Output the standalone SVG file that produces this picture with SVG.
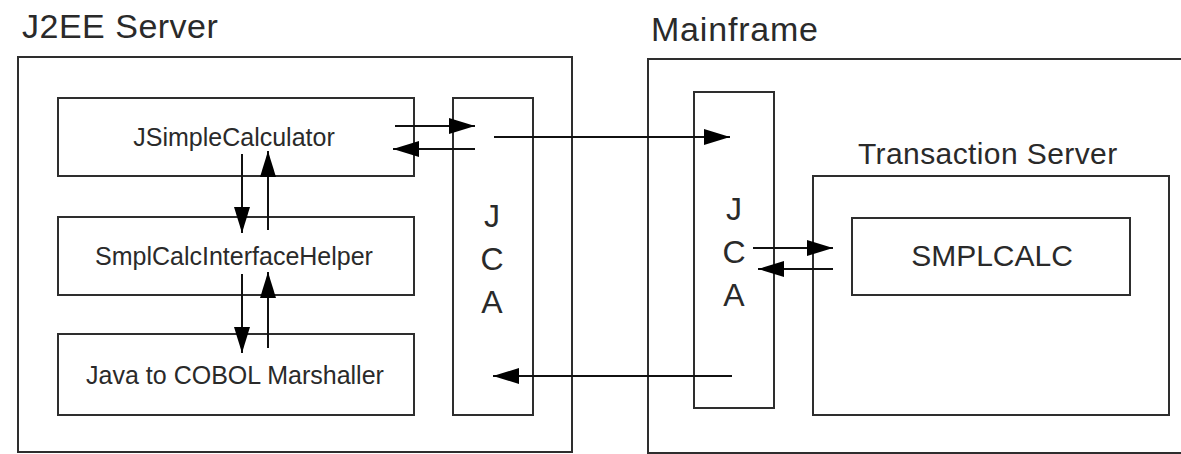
<svg xmlns="http://www.w3.org/2000/svg" width="1181" height="454" viewBox="0 0 1181 454">
<style>
.box{fill:none;stroke:#2e2e2e;stroke-width:2}
.ln{fill:none;stroke:#111;stroke-width:2}
.t{font-family:"Liberation Sans",Arial,sans-serif;fill:#2a2a2a}
.title{font-size:34px}
.lab{font-size:25px;text-anchor:middle}
.jca{font-size:32px;text-anchor:middle}
</style>
<defs>
<marker id="ah" markerUnits="userSpaceOnUse" markerWidth="28" markerHeight="18" refX="26" refY="8" orient="auto">
<path d="M0,0 L26,8 L0,16 z" fill="#000"/>
</marker>
</defs>
<rect width="1181" height="454" fill="#fff"/>
<g id="j2ee">
<text class="t title" x="22" y="38" letter-spacing="0.5">J2EE Server</text>
<rect class="box" x="18" y="57" width="554" height="395"/>
</g>
<g id="mainframe">
<text class="t title" x="651" y="41" letter-spacing="0.8">Mainframe</text>
<rect class="box" x="648" y="59" width="600" height="394"/>
</g>
<g id="jsimplecalculator">
<rect class="box" x="58" y="98" width="356" height="78"/>
<text class="t lab" x="234" y="146">JSimpleCalculator</text>
</g>
<g id="helper">
<rect class="box" x="58" y="217" width="356" height="78"/>
<text class="t lab" x="234" y="265">SmplCalcInterfaceHelper</text>
</g>
<g id="marshaller">
<rect class="box" x="58" y="334" width="356" height="81"/>
<text class="t lab" x="235" y="384">Java to COBOL Marshaller</text>
</g>
<g id="jca1">
<rect class="box" x="453" y="98" width="80" height="317"/>
<text class="t jca" x="492" y="227">J</text>
<text class="t jca" x="492" y="270">C</text>
<text class="t jca" x="492" y="313">A</text>
</g>
<g id="jca2">
<rect class="box" x="694" y="92" width="80" height="316"/>
<text class="t jca" x="734" y="220">J</text>
<text class="t jca" x="734" y="263">C</text>
<text class="t jca" x="734" y="306">A</text>
</g>
<g id="transaction-server">
<text class="t" x="858" y="164" font-size="30" letter-spacing="0.4">Transaction Server</text>
<rect class="box" x="813" y="176" width="356" height="239"/>
</g>
<g id="smplcalc">
<rect class="box" x="852" y="218" width="278" height="77"/>
<text class="t" x="992" y="266" font-size="30" text-anchor="middle">SMPLCALC</text>
</g>
<g id="connectors">
<line class="ln" x1="395" y1="126" x2="475" y2="126" marker-end="url(#ah)"/>
<line class="ln" x1="475" y1="149" x2="393" y2="149" marker-end="url(#ah)"/>
<line class="ln" x1="494" y1="137" x2="730" y2="137" marker-end="url(#ah)"/>
<line class="ln" x1="732" y1="376" x2="493" y2="376" marker-end="url(#ah)"/>
<line class="ln" x1="753" y1="248" x2="833" y2="248" marker-end="url(#ah)"/>
<line class="ln" x1="833" y1="269" x2="758" y2="269" marker-end="url(#ah)"/>
<line class="ln" x1="242" y1="154" x2="242" y2="233" marker-end="url(#ah)"/>
<line class="ln" x1="268" y1="230" x2="268" y2="151" marker-end="url(#ah)"/>
<line class="ln" x1="242" y1="274" x2="242" y2="353" marker-end="url(#ah)"/>
<line class="ln" x1="268" y1="348" x2="268" y2="272" marker-end="url(#ah)"/>
</g>
</svg>
